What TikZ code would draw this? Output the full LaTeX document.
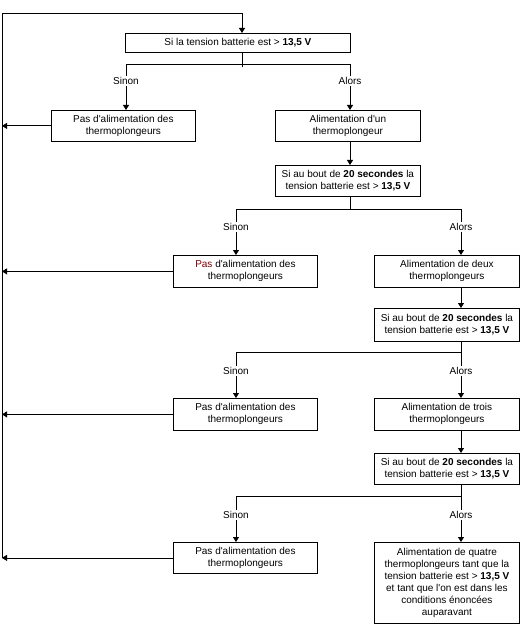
\documentclass[tikz,border=0pt]{standalone}
\usepackage{fontspec}
\setmainfont{Liberation Sans}[Ligatures=TeXOff]
\usetikzlibrary{arrows.meta,calc}
\definecolor{pasred}{RGB}{128,0,0}
\begin{document}
\begin{tikzpicture}[x=1pt,y=-1pt,
  font=\fontsize{10}{12}\selectfont,
  every path/.style={line width=0.8pt},
  box/.style={draw, line width=0.8pt, align=center, inner sep=0pt, anchor=north west},
  arr/.style={-{Triangle[width=6pt,length=5pt]}},
  lab/.style={fill=white, inner sep=1pt}]
\useasboundingbox (0,0) rectangle (524,631);

% boxes
\node[box, minimum width=225pt, minimum height=19pt] (b0) at (125,33)
  {Si la tension batterie est > \textbf{13,5 V}};
\node[box, minimum width=144pt, minimum height=31pt] (L1) at (51,110)
  {Pas d'alimentation des\\thermoplongeurs};
\node[box, minimum width=145pt, minimum height=31pt] (R1) at (275,110)
  {Alimentation d'un\\thermoplongeur};
\node[box, minimum width=145pt, minimum height=31pt] (D1) at (275,165)
  {Si au bout de \textbf{20 secondes} la\\tension batterie est > \textbf{13,5 V}};
\node[box, minimum width=144pt, minimum height=32pt] (L2) at (173,255)
  {\textcolor{pasred}{Pas} d'alimentation des\\thermoplongeurs};
\node[box, minimum width=145pt, minimum height=32pt] (R2) at (374,255)
  {Alimentation de deux\\thermoplongeurs};
\node[box, minimum width=145pt, minimum height=33pt] (D2) at (374,308)
  {Si au bout de \textbf{20 secondes} la\\tension batterie est > \textbf{13,5 V}};
\node[box, minimum width=144pt, minimum height=32pt] (L3) at (173,398)
  {Pas d'alimentation des\\thermoplongeurs};
\node[box, minimum width=145pt, minimum height=32pt] (R3) at (374,398)
  {Alimentation de trois\\thermoplongeurs};
\node[box, minimum width=145pt, minimum height=31pt] (D3) at (374,453)
  {Si au bout de \textbf{20 secondes} la\\tension batterie est > \textbf{13,5 V}};
\node[box, minimum width=144pt, minimum height=31pt] (L4) at (173,542)
  {Pas d'alimentation des\\thermoplongeurs};
\node[box, minimum width=145pt, minimum height=81pt] (R4) at (374,542)
  {Alimentation de quatre\\thermoplongeurs tant que la\\tension batterie est > \textbf{13,5 V}\\et tant que l'on est dans les\\conditions énoncées\\auparavant};

% coordinates
\coordinate (lb) at (2,558);
\coordinate (lt) at (2,13);
\coordinate (top) at (242,13);
\coordinate (j0) at (242,67);
\coordinate (h1l) at (126,64);
\coordinate (h1r) at (350,64);
\coordinate (j1) at (350,209);
\coordinate (h2l) at (236,209);
\coordinate (h2r) at (461,209);
\coordinate (j2) at (461,352);
\coordinate (h3l) at (236,352);
\coordinate (j3) at (461,496);
\coordinate (h4l) at (236,496);

% loop back
\draw[arr] (lb) -- (lt) -- (top) -- (b0.north -| top);
\draw[arr] (L1.west) -- (L1.west -| lb);
\draw[arr] (L2.west) -- (L2.west -| lb);
\draw[arr] (L3.west) -- (L3.west -| lb);
\draw[arr] (L4.west) -- (L4.west -| lb);

% level 1
\draw (b0.south -| j0) -- (j0);
\draw (h1l) -- (h1r);
\draw[arr] (h1l) -- (L1.north -| h1l);
\draw[arr] (h1r) -- (R1.north -| h1r);
\draw[arr] (R1.south -| h1r) -- (D1.north -| h1r);
\draw (D1.south -| j1) -- (j1);
% level 2
\draw (h2l) -- (h2r);
\draw[arr] (h2l) -- (L2.north -| h2l);
\draw[arr] (h2r) -- (R2.north -| h2r);
\draw[arr] (R2.south -| h2r) -- (D2.north -| h2r);
\draw (D2.south -| j2) -- (j2) -- (h3l);
% level 3
\draw[arr] (h3l) -- (L3.north -| h3l);
\draw[arr] (j2) -- (R3.north -| j2);
\draw[arr] (R3.south -| j2) -- (D3.north -| j2);
\draw (D3.south -| j3) -- (j3) -- (h4l);
% level 4
\draw[arr] (h4l) -- (L4.north -| h4l);
\draw[arr] (j3) -- (R4.north -| j3);

% labels
\node[lab] (s1) at (126,81) {Sinon};
\node[lab] (a1) at (350,81) {Alors};
\node[lab] (s2) at (236,227) {Sinon};
\node[lab] (a2) at (461,227) {Alors};
\node[lab] (s3) at (236,371) {Sinon};
\node[lab] (a3) at (461,371) {Alors};
\node[lab] (s4) at (236,515) {Sinon};
\node[lab] (a4) at (461,515) {Alors};
\end{tikzpicture}
\end{document}
